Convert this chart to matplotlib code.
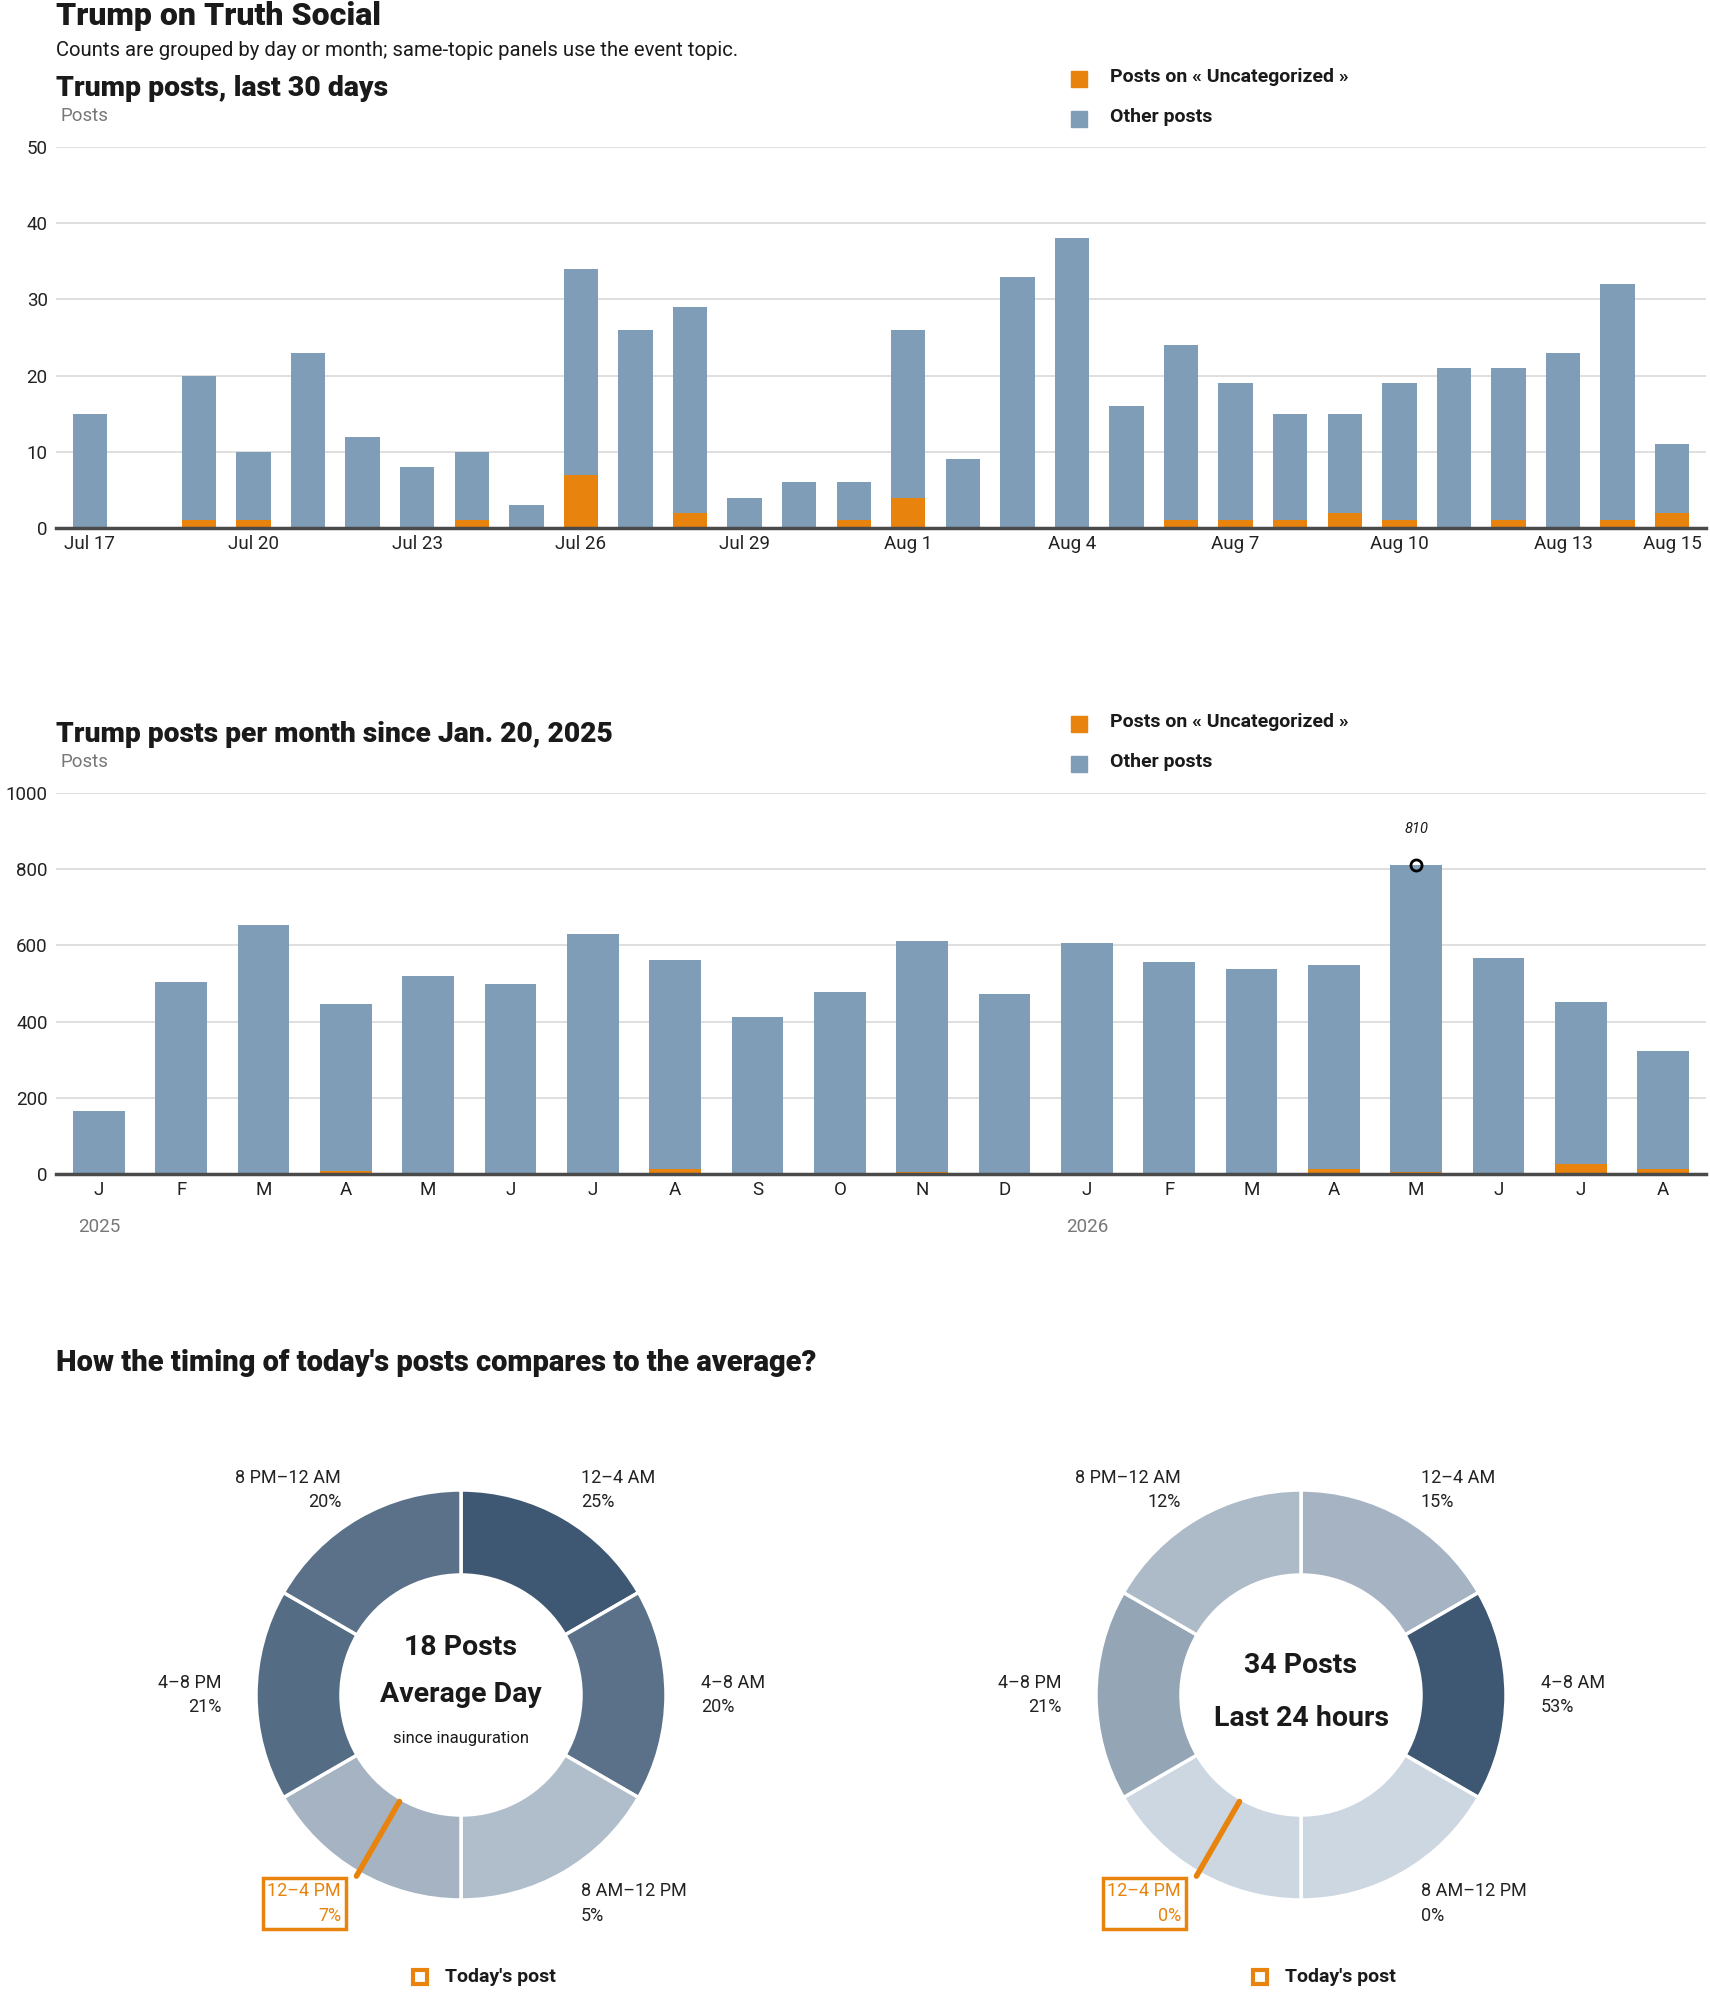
import numpy as np
import matplotlib
matplotlib.use("Agg")
from matplotlib import pyplot as plt
from matplotlib.lines import Line2D

plt.rcParams['font.family'] = ['Roboto', 'DejaVu Sans']

# ---- data ----
day_labels = ['Jul 17', 'Jul 18', 'Jul 19', 'Jul 20', 'Jul 21', 'Jul 22', 'Jul 23', 'Jul 24',
              'Jul 25', 'Jul 26', 'Jul 27', 'Jul 28', 'Jul 29', 'Jul 30', 'Jul 31', 'Aug 1',
              'Aug 2', 'Aug 3', 'Aug 4', 'Aug 5', 'Aug 6', 'Aug 7', 'Aug 8', 'Aug 9',
              'Aug 10', 'Aug 11', 'Aug 12', 'Aug 13', 'Aug 14', 'Aug 15']
daily_total = [15, 0, 20, 10, 23, 12, 8, 10, 3, 34, 26, 29, 4, 6, 6, 26,
               9, 33, 38, 16, 24, 19, 15, 15, 19, 21, 21, 23, 32, 11]
daily_topic = [0, 0, 1, 1, 0, 0, 0, 1, 0, 7, 0, 2, 0, 0, 1, 4,
               0, 0, 0, 0, 1, 1, 1, 2, 1, 0, 1, 0, 1, 2]
day_ticks = [0, 3, 6, 9, 12, 15, 18, 21, 24, 27, 29]

month_labels = ['J', 'F', 'M', 'A', 'M', 'J', 'J', 'A', 'S', 'O', 'N', 'D',
                'J', 'F', 'M', 'A', 'M', 'J', 'J', 'A']
monthly_total = [165, 504, 654, 447, 519, 499, 630, 561, 412, 477, 611, 472,
                 607, 556, 538, 549, 810, 567, 451, 322]
monthly_topic = [0, 3, 3, 9, 1, 3, 3, 12, 3, 1, 5, 1,
                 3, 1, 0, 12, 5, 1, 25, 12]
years = ['2025', '2026']

slot_labels = ['12–4 AM', '4–8 AM', '8 AM–12 PM', '12–4 PM', '4–8 PM', '8 PM–12 AM']
avg_share = [25, 20, 5, 7, 21, 20]
last24_share = [15, 53, 0, 0, 21, 12]
avg_posts = 18
last24_posts = 34
today_hour = 14
topic = 'Uncategorized'

# ---- style ----
W, H = 1710, 1993
BLUE = '#809db8'
ORANGE = '#e8830e'
GRID = '#dcdcdc'
DARK = '#1a1a1a'
LIGHT_RGB = np.array([205, 215, 225]) / 255
DARK_RGB = np.array([62, 88, 115]) / 255

fig = plt.figure(figsize=(W / 100, H / 100), dpi=100)


def fx(x):
    return x / W


def fy(y):
    return 1 - y / H


def bar_panel(top, bottom, cats, total, part, ymax, step, xpad):
    ax = fig.add_axes([fx(56), fy(bottom), fx(1706) - fx(56), fy(top) - fy(bottom)])
    x = np.arange(len(cats))
    total = np.array(total)
    part = np.array(part)
    ax.bar(x, part, width=0.63, color=ORANGE, zorder=3)
    ax.bar(x, total - part, bottom=part, width=0.63, color=BLUE, zorder=3)
    ax.set_ylim(0, ymax)
    ax.set_xlim(-xpad, len(cats) - 1 + xpad)
    ax.set_yticks(np.arange(0, ymax + 1, step))
    ax.grid(axis='y', color=GRID, lw=1.3, zorder=0)
    for s in ['top', 'right', 'left']:
        ax.spines[s].set_visible(False)
    ax.spines['bottom'].set_color('#4a4a4a')
    ax.spines['bottom'].set_linewidth(2.5)
    ax.spines['bottom'].set_zorder(4)
    ax.tick_params(axis='y', length=0, pad=6, labelsize=13.5, labelcolor='#222222')
    ax.tick_params(axis='x', length=0, pad=5, labelsize=13.5, labelcolor='#222222')
    return ax


def legend(y1, y2):
    for y, c, t in [(y1, ORANGE, f'Posts on « {topic} »'), (y2, BLUE, 'Other posts')]:
        fig.add_artist(Line2D([fx(1079)], [fy(y)], marker='s', ms=11, color=c, lw=0,
                              transform=fig.transFigure))
        fig.text(fx(1110), fy(y - 2), t, fontsize=14, fontweight='bold', color=DARK,
                 va='center')


# ---- headers ----
fig.text(fx(56), fy(16), 'Trump on Truth Social', fontsize=23, fontweight='black',
         color=DARK, va='center')
fig.text(fx(56), fy(51), 'Counts are grouped by day or month; same-topic panels use the event topic.',
         fontsize=14.6, color=DARK, va='center')

# ---- daily chart ----
fig.text(fx(56), fy(88), 'Trump posts, last 30 days', fontsize=20.4, fontweight='black',
         color=DARK, va='center')
fig.text(fx(60), fy(116), 'Posts', fontsize=13.5, color='#777777', va='center')
legend(79, 119)
ax1 = bar_panel(147, 528, day_labels, daily_total, daily_topic, 50, 10, 0.62)
ax1.set_xticks(day_ticks)
ax1.set_xticklabels([day_labels[i] for i in day_ticks])

# ---- monthly chart ----
fig.text(fx(56), fy(734), 'Trump posts per month since Jan. 20, 2025', fontsize=20.3,
         fontweight='black', color=DARK, va='center')
fig.text(fx(60), fy(762), 'Posts', fontsize=13.5, color='#777777', va='center')
legend(724, 764)
ax2 = bar_panel(793, 1174, month_labels, monthly_total, monthly_topic, 1000, 200, 0.52)
ax2.set_xticks(np.arange(len(month_labels)))
ax2.set_xticklabels(month_labels)
for k, yr in enumerate(years):
    ax2.text(12 * k, -0.14, yr, transform=ax2.get_xaxis_transform(), ha='center',
             va='center', fontsize=13.5, color='#777777')
peak = int(np.argmax(monthly_total))
ax2.plot(peak, monthly_total[peak], marker='o', ms=8, mfc='none', mec='black', mew=2,
         zorder=5)
ax2.annotate(str(monthly_total[peak]), (peak, monthly_total[peak]), xytext=(0, 26),
             textcoords='offset points', ha='center', va='center', fontsize=10.5,
             style='italic', color=DARK)

# ---- donuts ----
fig.text(fx(56), fy(1363), "How the timing of today's posts compares to the average?",
         fontsize=21, fontweight='black', color=DARK, va='center')

R = 205.0
today_slot = today_hour // 4


def donut(cx, cy, shares, lines):
    half = 330
    ax = fig.add_axes([fx(cx - half), fy(cy + half), 2 * half / W, 2 * half / H])
    shares = np.array(shares, dtype=float)
    t = shares / shares.max()
    colors = [LIGHT_RGB + v * (DARK_RGB - LIGHT_RGB) for v in t]
    ax.pie(np.ones(len(shares)), colors=colors, startangle=90, counterclock=False,
           radius=1.0, wedgeprops=dict(width=85 / R, edgecolor='white', linewidth=2.5))
    ax.set_xlim(-half / R, half / R)
    ax.set_ylim(-half / R, half / R)
    ax.axis('off')
    for i, (lab, s) in enumerate(zip(slot_labels, shares)):
        th = np.deg2rad(30 + 60 * i)
        lx = 1.17 * np.sin(th)
        ly = 1.155 * np.cos(th) if np.cos(th) > 0 else 1.175 * np.cos(th)
        ha = 'left' if lx > 0 else 'right'
        col = ORANGE if i == today_slot else '#222222'
        kw = {}
        if i == today_slot:
            kw['bbox'] = dict(boxstyle='square,pad=0.25', fc='none', ec=ORANGE, lw=2.5)
        ax.text(lx, ly, f'{lab}\n{int(s)}%', ha=ha, va='center', fontsize=13,
                color=col, linespacing=1.45, multialignment=ha, **kw)
    ang = np.deg2rad(today_hour / 24 * 360)
    ax.plot([0.6 * np.sin(ang), 1.02 * np.sin(ang)], [0.6 * np.cos(ang), 1.02 * np.cos(ang)],
            color=ORANGE, lw=4, solid_capstyle='round', zorder=5)
    for txt, y, size, wt in lines:
        ax.text(0, y, txt, ha='center', va='center', fontsize=size, fontweight=wt,
                color=DARK)
    fig.add_artist(Line2D([fx(cx - 41)], [fy(1977)], marker='s', ms=10, mfc='white',
                          mec=ORANGE, mew=3, lw=0, transform=fig.transFigure))
    fig.text(fx(cx - 16), fy(1977), "Today's post", fontsize=14, fontweight='bold',
             color=DARK, va='center')


donut(461, 1695, avg_share, [(f'{avg_posts} Posts', 0.234, 20.5, 'bold'),
                             ('Average Day', 0.0, 20.5, 'bold'),
                             ('since inauguration', -0.21, 12, 'normal')])
donut(1301, 1695, last24_share, [(f'{last24_posts} Posts', 0.146, 20.5, 'bold'),
                                 ('Last 24 hours', -0.117, 20.5, 'bold')])

fig.savefig('out.png', dpi=100)
